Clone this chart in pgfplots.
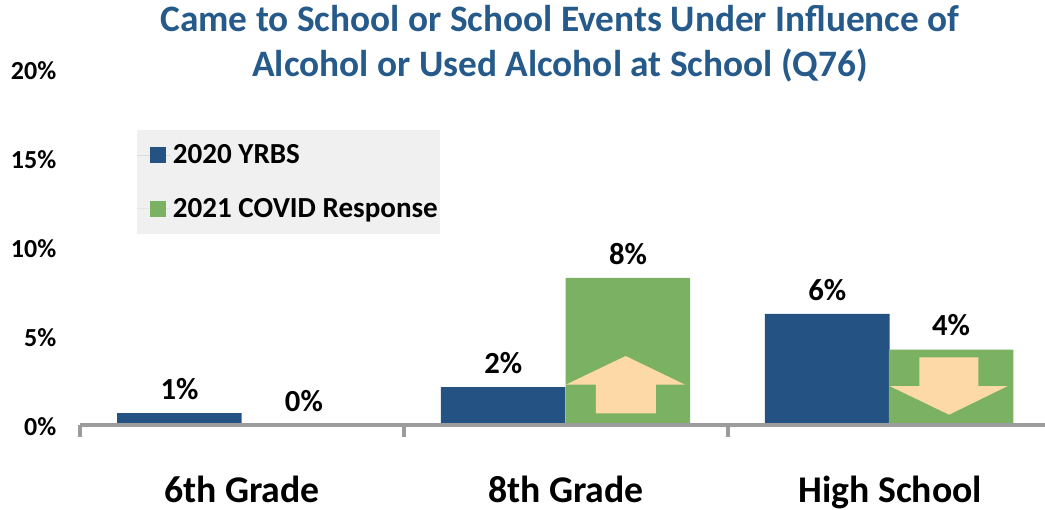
\documentclass[border=0pt]{standalone}
\usepackage{pgfplots}
\usepackage{fontspec}
\setmainfont{Carlito}
\pgfplotsset{compat=1.18}
\definecolor{barblue}{HTML}{245383}
\definecolor{bargreen}{HTML}{7AB162}
\definecolor{arroworange}{HTML}{FDD9A7}
\definecolor{titleblue}{HTML}{255A8A}
\definecolor{axisgray}{HTML}{9C9C9C}
\definecolor{legendgray}{HTML}{F0F0F0}
\begin{document}
\begin{tikzpicture}
\useasboundingbox (0pt,0pt) rectangle (783.75pt,382.5pt);
\begin{axis}[
    at={(60pt,63.75pt)},
    anchor=south west,
    scale only axis,
    width=723.75pt,
    height=267pt,
    xmin=0, xmax=2.978,
    ymin=0, ymax=20,
    axis on top,
    axis x line=bottom,
    axis y line=left,
    axis line style={-},
    y axis line style={draw=none},
    x axis line style={draw=axisgray,line width=3.4pt},
    clip=false,
    xtick={0.5,1.5,2.5},
    xticklabels={6th Grade,8th Grade,High School},
    minor xtick={0,1,2},
    major x tick style={draw=none},
    minor x tick style={draw=axisgray,line width=3pt},
    minor tick length=9pt,
    tick align=outside,
    xticklabel style={font=\bfseries\fontsize{28.3}{28.3}\selectfont,inner sep=0pt,yshift=-34pt},
    ytick={0,5,10,15,20},
    yticklabel={\pgfmathprintnumber{\tick}\%},
    major y tick style={draw=none},
    yticklabel style={font=\bfseries\fontsize{19.5}{19.5}\selectfont,
        /pgf/number format/assume math mode=true,anchor=east,xshift=-10pt,yshift=-1.5pt},
    title={Came to School or School Events Under Influence of\\Alcohol or Used Alcohol at School (Q76)},
    title style={at={(0,0)},anchor=north,xshift=360pt,yshift=312pt,align=center,
        text=titleblue,font=\bfseries\fontsize{28}{33.75}\selectfont},
    legend style={
        legend cell align=left,
        at={(42.75pt,221.25pt)},anchor=north west,
        draw=none,fill=legendgray,
        font=\bfseries\fontsize{21.8}{21.8}\selectfont,
        inner xsep=0pt,inner ysep=9pt,
        row sep=20pt},
    legend image code/.code={
        \path (0pt,0pt) -- (24.75pt,0pt);
        \fill[#1] (9.75pt,-6pt) rectangle (21.75pt,6pt);},
    nodes near coords style={font=\bfseries\fontsize{23}{23}\selectfont,
        /pgf/number format/assume math mode=true,
        /pgf/number format/fixed,/pgf/number format/precision=0,yshift=6.5pt},
]
\addplot[ybar,bar width=0.3843,bar shift=0pt,fill=barblue,draw=none,
    nodes near coords={\pgfmathprintnumber{\pgfplotspointmeta}\%}]
    coordinates {(0.307,0.67) (1.306,2.13) (2.306,6.24)};
\addplot[ybar,bar width=0.3843,bar shift=0pt,fill=bargreen,draw=none,
    nodes near coords={\pgfmathprintnumber{\pgfplotspointmeta}\%}]
    coordinates {(0.691,0) (1.691,8.26) (2.688,4.24)};
\legend{2020 YRBS,2021 COVID Response}
% arrows over the green bars
\addplot[fill=arroworange,draw=none,forget plot] coordinates {
    (1.684,3.876) (1.867,2.264) (1.777,2.264) (1.777,0.657)
    (1.592,0.657) (1.592,2.264) (1.499,2.264)} -- cycle;
\addplot[fill=arroworange,draw=none,forget plot] coordinates {
    (2.682,0.579) (2.863,2.191) (2.772,2.191) (2.772,3.803)
    (2.590,3.803) (2.590,2.191) (2.498,2.191)} -- cycle;
\end{axis}
\end{tikzpicture}
\end{document}
